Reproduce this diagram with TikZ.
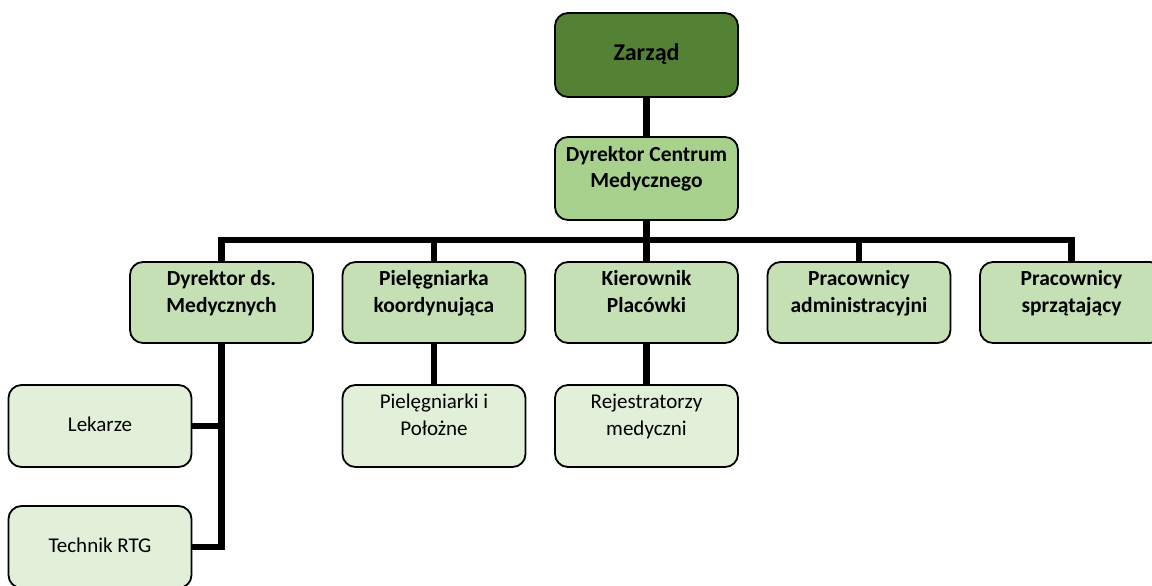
\documentclass[tikz,border=0pt]{standalone}
\usepackage{fontspec}
\setmainfont{Carlito}
\definecolor{zdark}{HTML}{548235}
\definecolor{zmid}{HTML}{A9D18E}
\definecolor{zlight}{HTML}{C5E0B4}
\definecolor{zpale}{HTML}{E2F0D9}
\newcommand{\bxt}[1]{\raisebox{0pt}[\height][\dimexpr\depth+18pt\relax]{\begin{tabular}{@{}c@{}}#1\end{tabular}}}
\newcommand{\bxs}[1]{\begin{tabular}{@{}c@{}}#1\end{tabular}}
\tikzset{
  orgbox/.style={draw=black, line width=1.8pt, rounded corners=13pt, minimum width=183pt, minimum height=83pt, inner sep=0pt, align=center},
  topbox/.style={orgbox, fill=zdark, minimum height=84pt, font=\bfseries\fontsize{24}{28}\selectfont},
  midbox/.style={orgbox, fill=zmid, font=\bfseries\fontsize{21.5}{26}\selectfont},
  secbox/.style={orgbox, fill=zlight, minimum height=81pt, font=\bfseries\fontsize{21.5}{26.5}\selectfont},
  lowbox/.style={orgbox, fill=zpale, minimum height=82pt, font=\fontsize{21}{27}\selectfont},
  conn/.style={line width=6.5pt, line join=miter}
}
\begin{document}
\begin{tikzpicture}[x=1pt, y=-1pt]
\useasboundingbox (0,0) rectangle (1152,586);
\clip (0,0) rectangle (1152,586);
\node[topbox] (Z) at (646.5,55) {\bxs{Zarząd}};
\node[midbox] (DC) at (646.5,178.5) {\bxt{Dyrektor Centrum\\Medycznego}};
\node[secbox] (DM) at (221.5,302.5) {\bxt{Dyrektor ds.\\Medycznych}};
\node[secbox] (PK) at (434,302.5) {\bxt{Pielęgniarka\\koordynująca}};
\node[secbox] (KP) at (646.5,302.5) {\bxt{Kierownik\\Placówki}};
\node[secbox] (PA) at (859,302.5) {\bxt{Pracownicy\\administracyjni}};
\node[secbox] (PS) at (1071.5,302.5) {\bxt{Pracownicy\\sprzątający}};
\node[lowbox] (PN) at (434,426) {\bxt{Pielęgniarki i\\Położne}};
\node[lowbox] (RM) at (646.5,426) {\bxt{Rejestratorzy\\medyczni}};
\node[lowbox] (LK) at (100,426) {\bxs{Lekarze}};
\node[lowbox] (TR) at (100,547) {\bxs{Technik RTG}};
\coordinate (bus) at (646.5,240);
\draw[conn] (Z.south) -- (DC.north);
\draw[conn] (DC.south) -- (bus);
\draw[conn] (DM.north) |- (bus) -| (PS.north);
\draw[conn] (PK.north) -- (PK.north |- bus);
\draw[conn] (KP.north) -- (bus);
\draw[conn] (PA.north) -- (PA.north |- bus);
\draw[conn] (PK.south) -- (PN.north);
\draw[conn] (KP.south) -- (RM.north);
\draw[conn] (DM.south) |- (TR.east);
\draw[conn] (LK.east) -- (LK.east -| DM.south);
\end{tikzpicture}
\end{document}
